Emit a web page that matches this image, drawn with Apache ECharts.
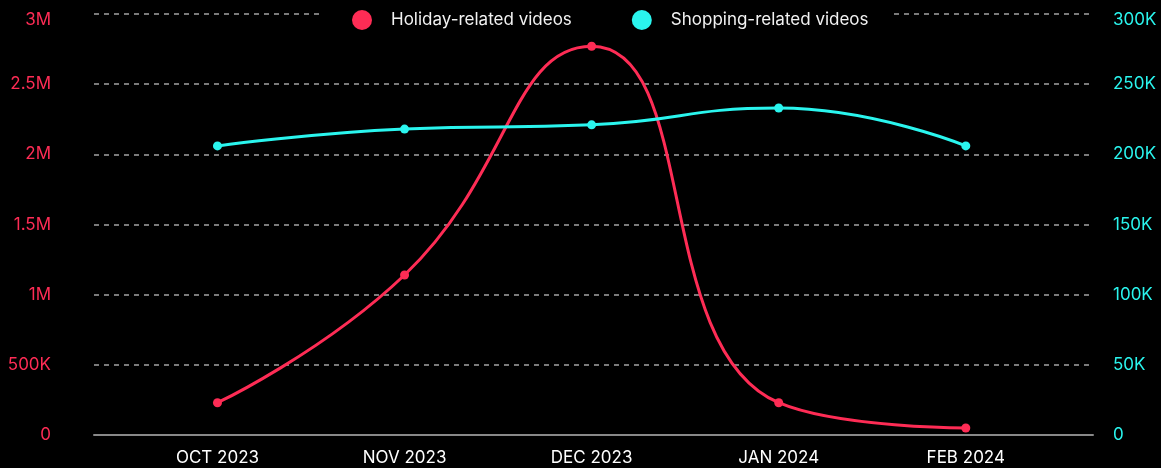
<!DOCTYPE html>
<html>
<head>
<meta charset="utf-8">
<script src="https://cdn.jsdelivr.net/npm/echarts@6/dist/echarts.min.js"></script>
<style>
  html, body { margin: 0; padding: 0; background: #000; }
  #chart { width: 1161px; height: 468px; }
</style>
</head>
<body>
<div id="chart"></div>
<script>
const months = ['OCT 2023', 'NOV 2023', 'DEC 2023', 'JAN 2024', 'FEB 2024']
const holidayVideos = [230000, 1140000, 2770000, 230000, 50000]
const shoppingVideos = [206000, 218000, 221000, 233000, 206000]
const leftTicks = ['0', '500K', '1M', '1.5M', '2M', '2.5M', '3M']
const rightTicks = ['0', '50K', '100K', '150K', '200K', '250K', '300K']

const pink = '#fe2c55'
const cyan = '#2af5ee'
const font = 'Inter, Roboto, sans-serif'

// top tick label sits a little below its grid line, like the original
const tickLabel = (ticks, color) => ({
  color: color,
  fontSize: 17,
  formatter: (v, i) => i === ticks.length - 1 ? '{top|' + ticks[i] + '}' : ticks[i],
  rich: { top: { color: color, fontSize: 17, fontFamily: font, padding: [12, 0, 0, 0] } }
})

const chart = echarts.init(document.getElementById('chart'))

chart.setOption({
  backgroundColor: '#000',
  textStyle: { fontFamily: font },
  legend: {
    top: 8,
    left: 321,
    icon: 'circle',
    itemWidth: 20,
    itemHeight: 20,
    itemGap: 60,
    backgroundColor: '#000',
    padding: [2, 25, 2, 31],
    textStyle: { color: '#f2f2f2', fontSize: 17, fontFamily: font, padding: [0, 0, 0, 14] }
  },
  grid: { left: 94, right: 68, top: 14, bottom: 33 },
  xAxis: {
    type: 'value',
    min: -0.66,
    max: 4.68,
    splitLine: { show: false },
    axisTick: { show: false },
    axisLine: { lineStyle: { color: '#888', width: 2 } },
    axisLabel: {
      customValues: [0, 1, 2, 3, 4],
      formatter: v => months[Math.round(v)],
      color: '#fff',
      fontSize: 17,
      margin: 14
    }
  },
  yAxis: [
    {
      type: 'value',
      min: 0,
      max: 3000000,
      interval: 500000,
      axisLine: { show: false },
      axisTick: { show: false },
      axisLabel: Object.assign(tickLabel(leftTicks, pink), { margin: 43 }),
      splitLine: { lineStyle: { color: '#7a7a7a', type: [5, 5], width: 2 } }
    },
    {
      type: 'value',
      min: 0,
      max: 300000,
      interval: 50000,
      position: 'right',
      axisLine: { show: false },
      axisTick: { show: false },
      axisLabel: Object.assign(tickLabel(rightTicks, cyan), { margin: 20 }),
      splitLine: { show: false }
    }
  ],
  series: [
    {
      name: 'Holiday-related videos',
      type: 'line',
      yAxisIndex: 0,
      smooth: true,
      symbol: 'circle',
      symbolSize: 9,
      itemStyle: { color: pink },
      lineStyle: { color: pink, width: 3 },
      data: holidayVideos.map((v, i) => [i, v])
    },
    {
      name: 'Shopping-related videos',
      type: 'line',
      yAxisIndex: 1,
      smooth: true,
      symbol: 'circle',
      symbolSize: 9,
      itemStyle: { color: cyan },
      lineStyle: { color: cyan, width: 3 },
      data: shoppingVideos.map((v, i) => [i, v])
    }
  ]
})
</script>
</body>
</html>
